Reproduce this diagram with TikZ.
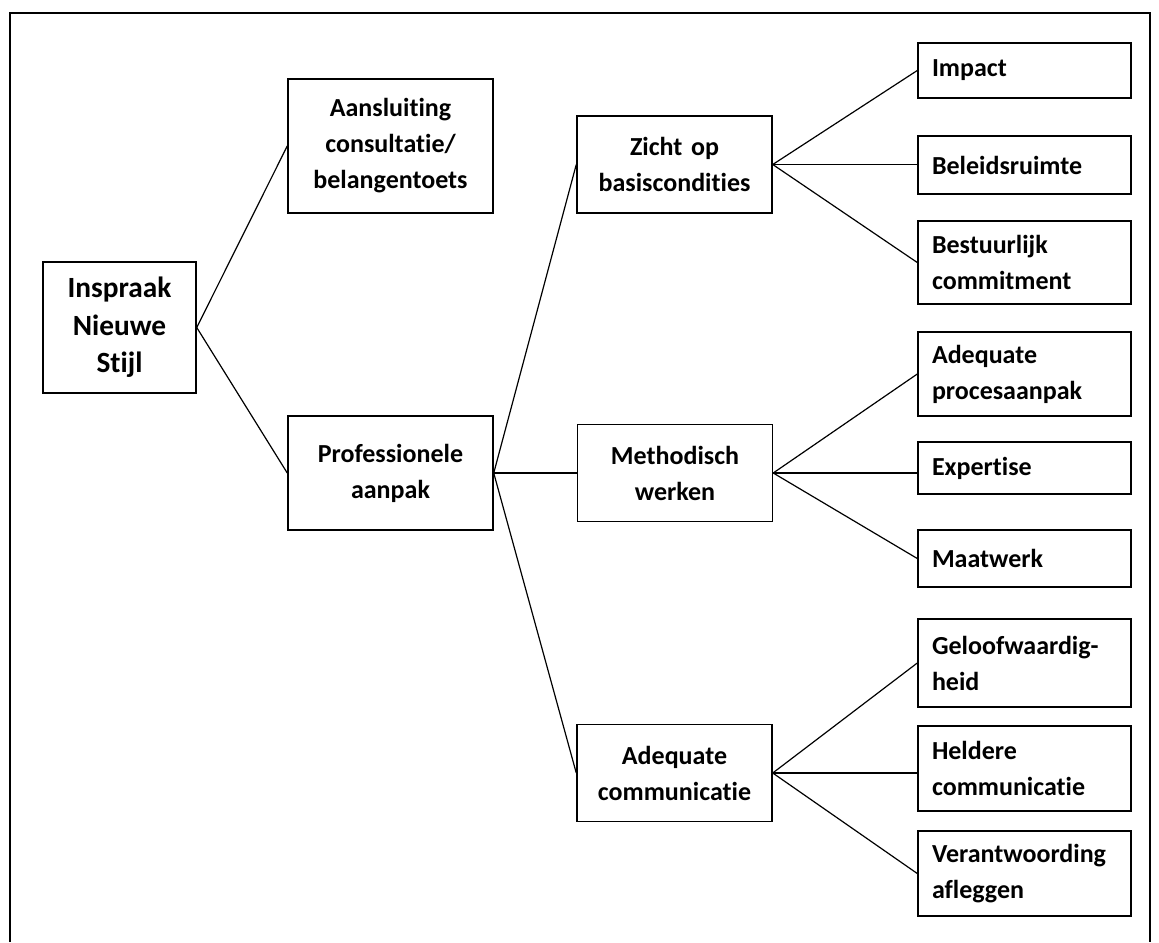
\documentclass[tikz,border=0pt]{standalone}
\usepackage{fontspec}
\setmainfont{Carlito}[Ligatures=NoCommon]

\tikzset{
  blok/.style={draw, line width=1.1pt, inner xsep=10.5pt, inner ysep=0pt,
    font=\bfseries\fontsize{19.5}{27}\selectfont},
  midblok/.style={blok, align=center},
  eindblok/.style={blok, align=left, text width=138.75pt},
  tak/.style={line width=0.9pt}
}

\begin{document}
\begin{tikzpicture}[x=0.75pt,y=0.75pt,yscale=-1,xscale=1]
\useasboundingbox (0,0) rectangle (1159,942);

%Frame
\draw [line width=1.4pt] (10,942) -- (10,13) -- (1150,13) -- (1150,942) ;

%Shape: Rectangle (root)
\node [midblok, text width=93.75pt, minimum height=98.25pt, font=\bfseries\fontsize{22}{28}\selectfont] (insp) at (119.5,327.5) {Inspraak\\Nieuwe\\Stijl};

%Shape: Rectangle (level 1)
\node [midblok, text width=132.75pt, minimum height=100.5pt] (aans) at (390.5,146) {Aansluiting\\consultatie/\\belangentoets};
\node [midblok, text width=132.75pt, minimum height=85.5pt] (prof) at (390.5,473) {Professionele\\aanpak};

%Shape: Rectangle (level 2)
\node [midblok, text width=125.25pt, minimum height=72.75pt] (zicht) at (674.5,164.5) {Zicht op\\basiscondities};
\node [midblok, text width=125.25pt, minimum height=72.75pt] (meth) at (675,473) {Methodisch\\werken};
\node [midblok, text width=125.25pt, minimum height=72.75pt] (adcom) at (674.5,773) {Adequate\\communicatie};

%Shape: Rectangle (level 3)
\node [eindblok, minimum height=41.25pt] (impact) at (1024.5,70.5) {Impact};
\node [eindblok, minimum height=43.5pt] (beleid) at (1024.5,165) {Beleidsruimte};
\node [eindblok, minimum height=62.25pt] (bestuur) at (1024.5,262.5) {Bestuurlijk\\commitment};
\node [eindblok, minimum height=63pt] (adproc) at (1024.5,374) {Adequate\\procesaanpak};
\node [eindblok, minimum height=39pt] (expert) at (1024.5,468) {Expertise};
\node [eindblok, minimum height=42.75pt] (maat) at (1024.5,558.5) {Maatwerk};
\node [eindblok, minimum height=66pt] (geloof) at (1024.5,663) {Geloofwaardig-\\heid};
\node [eindblok, minimum height=63.75pt] (helder) at (1024.5,768.5) {Heldere\\communicatie};
\node [eindblok, minimum height=63.75pt] (verant) at (1024.5,873.5) {Verantwoording\\afleggen};

%Straight Lines
\draw [tak] (insp.east) -- (aans.west) ;
\draw [tak] (insp.east) -- (prof.west) ;
\draw [tak] (prof.east) -- (zicht.west) ;
\draw [tak] (prof.east) -- (meth.west) ;
\draw [tak] (prof.east) -- (adcom.west) ;
\draw [tak] (zicht.east) -- (impact.west) ;
\draw [tak] (zicht.east) -- (zicht.east -| beleid.west) ;
\draw [tak] (zicht.east) -- (bestuur.west) ;
\draw [tak] (meth.east) -- (adproc.west) ;
\draw [tak] (meth.east) -- (meth.east -| expert.west) ;
\draw [tak] (meth.east) -- (maat.west) ;
\draw [tak] (adcom.east) -- (geloof.west) ;
\draw [tak] (adcom.east) -- (adcom.east -| helder.west) ;
\draw [tak] (adcom.east) -- (verant.west) ;

\end{tikzpicture}
\end{document}
